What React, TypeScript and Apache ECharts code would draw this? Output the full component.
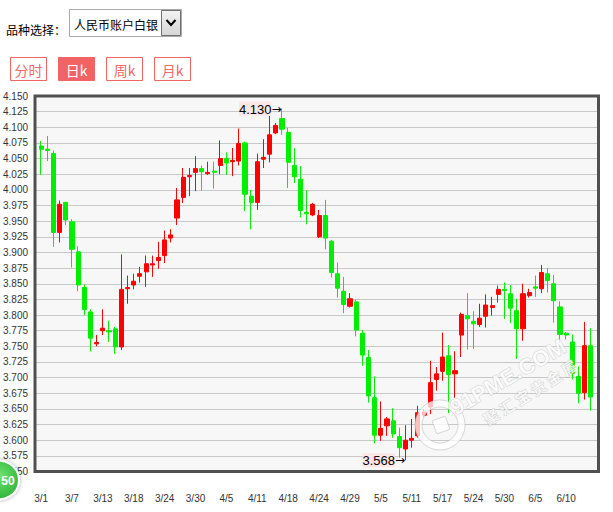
import React, { useEffect, useRef } from "react";
import * as echarts from "echarts";

const dates = [
  "3/1", "3/2", "3/3", "3/4", "3/6", "3/7", "3/8", "3/9", "3/10", "3/11",
  "3/13", "3/14", "3/15", "3/16", "3/17", "3/18", "3/20", "3/21", "3/22", "3/23",
  "3/24", "3/25", "3/27", "3/28", "3/29", "3/30", "3/31", "4/1", "4/3", "4/4",
  "4/5", "4/6", "4/7", "4/8", "4/10", "4/11", "4/12", "4/13", "4/14", "4/17",
  "4/18", "4/19", "4/20", "4/21", "4/22", "4/24", "4/25", "4/26", "4/27", "4/28",
  "4/29", "5/1", "5/2", "5/3", "5/4", "5/5", "5/6", "5/8", "5/9", "5/10",
  "5/11", "5/12", "5/13", "5/15", "5/16", "5/17", "5/18", "5/19", "5/22", "5/23",
  "5/24", "5/25", "5/26", "5/27", "5/29", "5/30", "5/31", "6/1", "6/2", "6/3",
  "6/5", "6/6", "6/7", "6/8", "6/9", "6/10", "6/12", "6/13", "6/14", "6/15",
];

const opens = [
  4.070, 4.065, 4.058, 3.932, 3.980, 3.949, 3.901, 3.844, 3.805, 3.754,
  3.775, 3.775, 3.778, 3.749, 3.842, 3.848, 3.862, 3.869, 3.880, 3.887,
  3.895, 3.923, 3.955, 3.988, 4.021, 4.028, 4.034, 4.026, 4.030, 4.039,
  4.050, 4.045, 4.046, 4.075, 3.990, 3.980, 4.049, 4.057, 4.091, 4.114,
  4.092, 4.039, 4.017, 3.964, 3.960, 3.925, 3.959, 3.918, 3.866, 3.838,
  3.814, 3.821, 3.771, 3.732, 3.668, 3.608, 3.623, 3.631, 3.606, 3.586,
  3.600, 3.607, 3.640, 3.653, 3.697, 3.710, 3.735, 3.706, 3.768, 3.799,
  3.790, 3.785, 3.798, 3.812, 3.833, 3.841, 3.834, 3.807, 3.778, 3.831,
  3.845, 3.842, 3.866, 3.850, 3.813, 3.771, 3.757, 3.702, 3.676, 3.751,
];
const closes = [
  4.065, 4.063, 3.932, 3.977, 3.952, 3.905, 3.848, 3.809, 3.763, 3.756,
  3.779, 3.773, 3.749, 3.841, 3.844, 3.854, 3.866, 3.882, 3.882, 3.892,
  3.920, 3.928, 3.984, 4.020, 4.023, 4.034, 4.029, 4.028, 4.028, 4.050,
  4.043, 4.047, 4.074, 3.993, 3.980, 4.045, 4.052, 4.088, 4.103, 4.097,
  4.044, 4.021, 3.967, 3.962, 3.977, 3.959, 3.923, 3.868, 3.843, 3.817,
  3.826, 3.776, 3.736, 3.671, 3.608, 3.619, 3.634, 3.610, 3.588, 3.600,
  3.603, 3.644, 3.645, 3.692, 3.706, 3.733, 3.705, 3.711, 3.801, 3.794,
  3.786, 3.795, 3.816, 3.815, 3.841, 3.839, 3.811, 3.778, 3.834, 3.836,
  3.843, 3.868, 3.855, 3.823, 3.769, 3.768, 3.707, 3.675, 3.751, 3.669,
];
const lows = [
  4.024, 4.046, 3.909, 3.916, 3.944, 3.876, 3.838, 3.800, 3.742, 3.750,
  3.768, 3.757, 3.738, 3.744, 3.818, 3.841, 3.852, 3.845, 3.861, 3.874,
  3.883, 3.916, 3.944, 3.979, 3.990, 3.998, 3.999, 4.024, 4.002, 4.025,
  4.024, 4.022, 4.039, 3.966, 3.937, 3.968, 4.035, 4.044, 4.089, 4.088,
  4.003, 4.011, 3.956, 3.945, 3.958, 3.923, 3.905, 3.860, 3.828, 3.803,
  3.812, 3.766, 3.719, 3.660, 3.595, 3.599, 3.607, 3.604, 3.572, 3.568,
  3.588, 3.604, 3.637, 3.642, 3.679, 3.695, 3.643, 3.668, 3.733, 3.745,
  3.746, 3.781, 3.780, 3.799, 3.820, 3.794, 3.787, 3.730, 3.759, 3.828,
  3.829, 3.835, 3.836, 3.788, 3.756, 3.761, 3.697, 3.659, 3.665, 3.647,
];
const highs = [
  4.078, 4.086, 4.063, 3.983, 3.981, 3.953, 3.910, 3.849, 3.809, 3.768,
  3.809, 3.791, 3.781, 3.897, 3.863, 3.866, 3.877, 3.895, 3.895, 3.917,
  3.935, 3.937, 4.003, 4.035, 4.035, 4.054, 4.039, 4.045, 4.045, 4.079,
  4.060, 4.067, 4.098, 4.077, 4.000, 4.058, 4.081, 4.118, 4.107, 4.130,
  4.099, 4.067, 4.038, 3.999, 3.979, 3.968, 3.984, 3.920, 3.884, 3.861,
  3.835, 3.825, 3.776, 3.744, 3.702, 3.662, 3.637, 3.651, 3.620, 3.624,
  3.634, 3.655, 3.650, 3.727, 3.717, 3.772, 3.752, 3.742, 3.804, 3.835,
  3.806, 3.818, 3.833, 3.829, 3.847, 3.852, 3.848, 3.826, 3.850, 3.842,
  3.863, 3.880, 3.875, 3.864, 3.822, 3.773, 3.769, 3.718, 3.789, 3.779,
];

const yMin = 3.55;
const yMax = 4.15;
const yStep = 0.025;

const productLabel = "品种选择：";
const productName = "人民币账户白银";
const periodButtons = ["分时", "日k", "周k", "月k"];
const activeButton = 1;

export default function App() {
  const ref = useRef<HTMLDivElement>(null);

  useEffect(() => {
    if (!ref.current) return;
    const chart = echarts.init(ref.current, undefined, { renderer: "svg" });

    const data = opens.map((o, i) => [o, closes[i], lows[i], highs[i]]);
    let maxIdx = 0;
    let minIdx = 0;
    highs.forEach((h, i) => { if (h > highs[maxIdx]) maxIdx = i; });
    lows.forEach((l, i) => { if (l < lows[minIdx]) minIdx = i; });

    const font = "Liberation Sans";
    const cjk = "Noto Sans CJK SC";
    const btnColor = "#f26464";

    const buttons: any[] = [];
    periodButtons.forEach((t, i) => {
      const x = 10 + i * 48;
      const active = i === activeButton;
      buttons.push({
        type: "rect",
        shape: { x: x + 0.5, y: 57.5, width: 36, height: 23 },
        style: { fill: active ? btnColor : "#fff", stroke: btnColor, lineWidth: 1 },
        z: 60,
      });
      buttons.push({
        type: "text",
        x: x + 18.5,
        y: 69.5,
        style: {
          text: t,
          fill: active ? "#fff" : "#f06a6a",
          fontSize: 14,
          fontFamily: cjk,
          align: "center",
          verticalAlign: "middle",
        },
        z: 61,
      });
    });

    chart.setOption({
      animation: false,
      backgroundColor: "#ffffff",
      grid: [
        { left: 38, right: 19, top: 96, bottom: 40.5, show: false },
        {
          left: 35, right: 14.5, top: 96, bottom: 40.5, show: true,
          backgroundColor: "#f7f7f7", borderWidth: 0, z: 0,
        },
      ],
      xAxis: [
        {
          type: "category",
          gridIndex: 0,
          data: dates,
          boundaryGap: true,
          axisLine: { show: false },
          axisTick: { show: false },
          splitLine: { show: false },
          axisLabel: {
            interval: 4,
            margin: 22,
            fontSize: 10,
            color: "#333",
            fontFamily: font,
          },
        },
        { type: "category", gridIndex: 1, data: dates, show: false },
      ],
      yAxis: [
        { type: "value", gridIndex: 0, min: yMin, max: yMax, interval: yStep, show: false },
        {
          type: "value",
          gridIndex: 1,
          min: yMin,
          max: yMax,
          interval: yStep,
          axisLine: { show: false },
          axisTick: { show: false },
          splitLine: { show: true, lineStyle: { color: "#c8c8c8", width: 1 } },
          axisLabel: {
            margin: 7,
            fontSize: 10,
            color: "#333",
            fontFamily: font,
            padding: [4, 0, 0, 0],
            formatter: (v: number) => v.toFixed(3),
          },
        },
      ],
      series: [
        {
          type: "candlestick",
          xAxisIndex: 0,
          yAxisIndex: 0,
          data,
          barWidth: 4.6,
          itemStyle: {
            color: "#ff0000",
            color0: "#00ee00",
            borderColor: "#ff0000",
            borderColor0: "#00ee00",
            borderWidth: 1,
          },
          markPoint: {
            symbol: "circle",
            symbolSize: 1,
            itemStyle: { color: "rgba(0,0,0,0)" },
            label: {
              show: true,
              position: "left",
              distance: 0,
              rich: {
                a: { backgroundColor: "#fde6e6", color: "#000", fontSize: 13, fontFamily: font, padding: [1, 0, 0, 0] },
                b: { color: "#000", fontSize: 12, fontFamily: "DejaVu Sans" },
              },
            },
            data: [
              {
                coord: [maxIdx, highs[maxIdx]],
                label: { formatter: "{a|" + highs[maxIdx].toFixed(3) + "}{b|→}" },
              },
              {
                coord: [minIdx, lows[minIdx]],
                label: { formatter: "{a|" + lows[minIdx].toFixed(3) + "}{b|→}" },
              },
            ],
          },
        },
      ],
      graphic: [
        // frame
        {
          type: "rect",
          shape: { x: 35, y: 96, width: 563.5, height: 375.5 },
          style: { fill: "none", stroke: "#505050", lineWidth: 3 },
          z: 50,
        },
        // watermark
        {
          type: "ring",
          shape: { cx: 440, cy: 425, r: 25, r0: 18 },
          style: { fill: "rgba(255,255,255,0.75)", stroke: "rgba(170,170,170,0.45)", lineWidth: 1 },
          z: 40,
        },
        {
          type: "rect",
          x: 441,
          y: 425,
          rotation: (20 * Math.PI) / 180,
          shape: { x: -7, y: -7, width: 14, height: 14, r: 2 },
          style: { fill: "rgba(255,255,255,0.8)", stroke: "rgba(170,170,170,0.45)", lineWidth: 1 },
          z: 40,
        },
        {
          type: "text",
          x: 508,
          y: 377,
          rotation: (30 * Math.PI) / 180,
          style: {
            text: "91PME.COM",
            fontSize: 22,
            fontWeight: "bold",
            fontFamily: font,
            fill: "rgba(255,255,255,0.8)",
            stroke: "rgba(160,160,160,0.45)",
            lineWidth: 1,
            align: "center",
            verticalAlign: "middle",
          },
          z: 40,
        },
        {
          type: "text",
          x: 530,
          y: 392,
          rotation: (32 * Math.PI) / 180,
          style: {
            text: "聚 汇 宝 贵 金 属",
            fontSize: 15,
            fontWeight: "bold",
            fontFamily: cjk,
            fill: "rgba(255,255,255,0.8)",
            stroke: "rgba(160,160,160,0.45)",
            lineWidth: 1,
            align: "center",
            verticalAlign: "middle",
          },
          z: 40,
        },
        // badge
        {
          type: "circle",
          shape: { cx: 0, cy: 480, r: 19 },
          style: {
            fill: {
              type: "radial", x: 0.5, y: 0.4, r: 0.6,
              colorStops: [
                { offset: 0, color: "#6fe36f" },
                { offset: 1, color: "#2fb43a" },
              ],
            },
            stroke: "#ffffff",
            lineWidth: 2,
            shadowBlur: 4,
            shadowColor: "rgba(0,0,0,0.35)",
          },
          z: 70,
        },
        {
          type: "text",
          x: 8,
          y: 481,
          style: {
            text: "50",
            fill: "#fff",
            fontSize: 12,
            fontWeight: "bold",
            fontFamily: font,
            align: "center",
            verticalAlign: "middle",
          },
          z: 71,
        },
        // controls
        {
          type: "text",
          x: 6,
          y: 29,
          style: {
            text: productLabel,
            fill: "#000",
            fontSize: 12,
            fontFamily: cjk,
            verticalAlign: "middle",
          },
          z: 60,
        },
        {
          type: "rect",
          shape: { x: 69.5, y: 9.5, width: 112, height: 27 },
          style: { fill: "#fff", stroke: "#a9a9a9", lineWidth: 1 },
          z: 60,
        },
        {
          type: "text",
          x: 74,
          y: 24,
          style: {
            text: productName,
            fill: "#000",
            fontSize: 12,
            fontFamily: cjk,
            verticalAlign: "middle",
          },
          z: 61,
        },
        {
          type: "rect",
          shape: { x: 161.5, y: 10.5, width: 19, height: 25 },
          style: {
            fill: {
              type: "linear", x: 0, y: 0, x2: 0, y2: 1,
              colorStops: [
                { offset: 0, color: "#f2f2f2" },
                { offset: 1, color: "#d6d6d6" },
              ],
            },
            stroke: "#707070",
            lineWidth: 1,
          },
          z: 61,
        },
        {
          type: "polyline",
          shape: { points: [[166.5, 20], [171, 25], [175.5, 20]] },
          style: { stroke: "#000", lineWidth: 2, fill: null },
          z: 62,
        },
        ...buttons,
      ],
    });

    return () => chart.dispose();
  }, []);

  return (
    <div
      ref={ref}
      style={{ position: "absolute", left: 0, top: 0, width: 613, height: 512 }}
    />
  );
}
